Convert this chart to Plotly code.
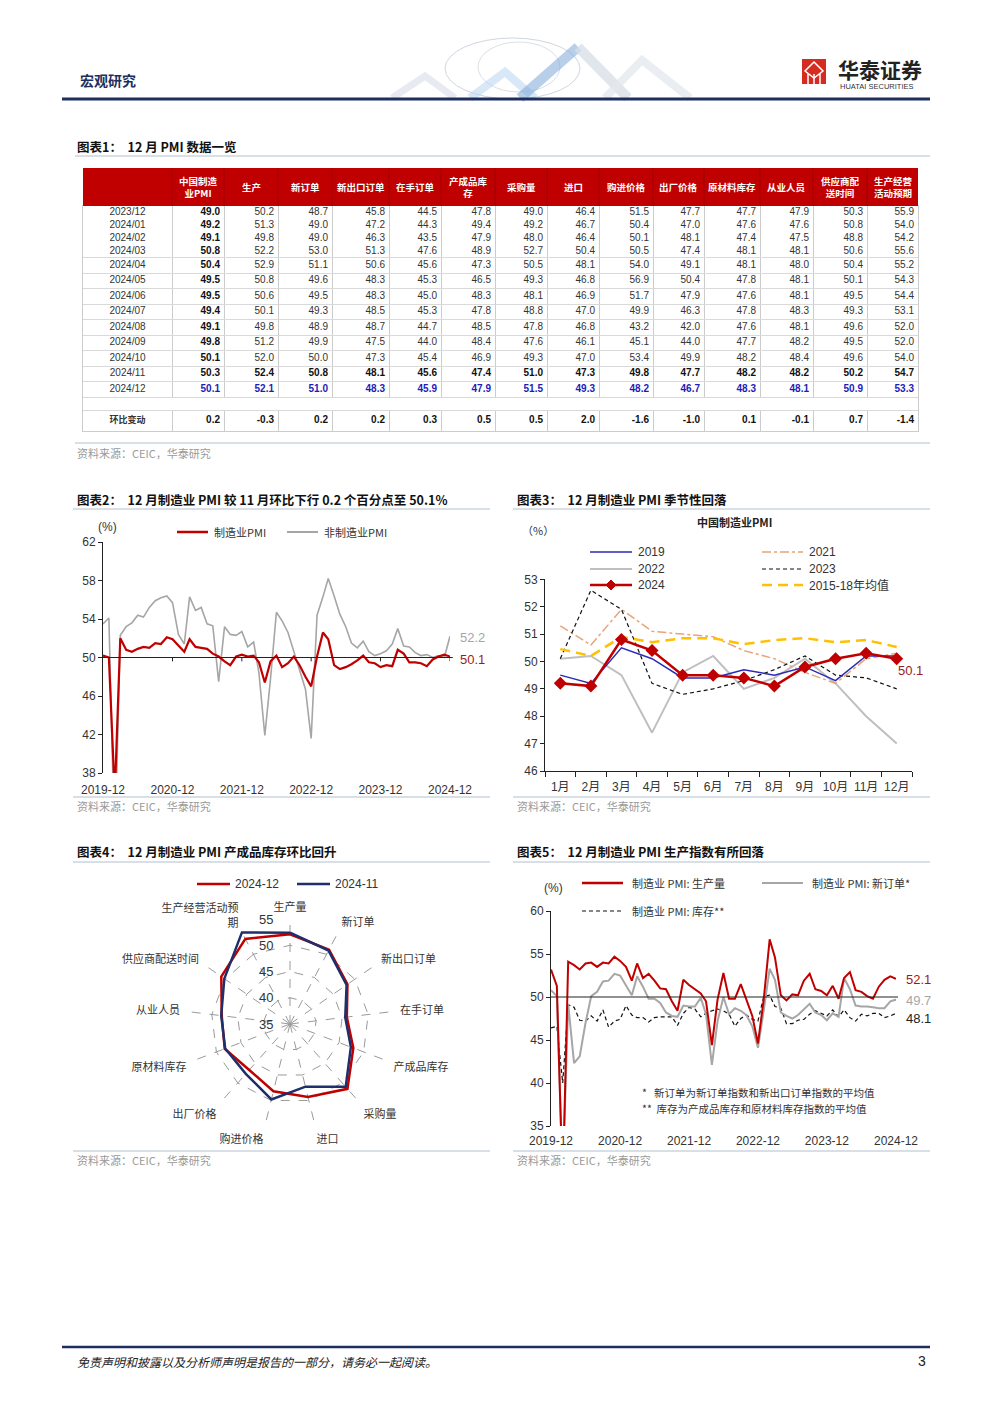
import pandas as pd
import plotly.graph_objects as go

W, H = 1000, 1414
OFF = 8  # page body margin offset
def X(p): return (p - OFF) / W
def Y(p): return 1 - (p - OFF) / H

CJK = "Noto Sans CJK SC"
NUM = "Liberation Sans, Arial, Noto Sans CJK SC"
RED = "#c00000"
NAVY = "#1f2f6b"
RULE = "#b3bfce"

# ---------------- Table 1 data ----------------
table_dates = ["2023/12", "2024/01", "2024/02", "2024/03", "2024/04", "2024/05", "2024/06",
               "2024/07", "2024/08", "2024/09", "2024/10", "2024/11", "2024/12"]
table_headers = ["中国制造<br>业PMI", "生产", "新订单", "新出口订单", "在手订单", "产成品库<br>存",
                 "采购量", "进口", "购进价格", "出厂价格", "原材料库存", "从业人员", "供应商配<br>送时间",
                 "生产经营<br>活动预期"]
pmi_total = [49.0, 49.2, 49.1, 50.8, 50.4, 49.5, 49.5, 49.4, 49.1, 49.8, 50.1, 50.3, 50.1]
production = [50.2, 51.3, 49.8, 52.2, 52.9, 50.8, 50.6, 50.1, 49.8, 51.2, 52.0, 52.4, 52.1]
new_orders = [48.7, 49.0, 49.0, 53.0, 51.1, 49.6, 49.5, 49.3, 48.9, 49.9, 50.0, 50.8, 51.0]
new_export = [45.8, 47.2, 46.3, 51.3, 50.6, 48.3, 48.3, 48.5, 48.7, 47.5, 47.3, 48.1, 48.3]
backlog = [44.5, 44.3, 43.5, 47.6, 45.6, 45.3, 45.0, 45.3, 44.7, 44.0, 45.4, 45.6, 45.9]
finished_inv = [47.8, 49.4, 47.9, 48.9, 47.3, 46.5, 48.3, 47.8, 48.5, 48.4, 46.9, 47.4, 47.9]
purchase = [49.0, 49.2, 48.0, 52.7, 50.5, 49.3, 48.1, 48.8, 47.8, 47.6, 49.3, 51.0, 51.5]
imports = [46.4, 46.7, 46.4, 50.4, 48.1, 46.8, 46.9, 47.0, 46.8, 46.1, 47.0, 47.3, 49.3]
input_price = [51.5, 50.4, 50.1, 50.5, 54.0, 56.9, 51.7, 49.9, 43.2, 45.1, 53.4, 49.8, 48.2]
output_price = [47.7, 47.0, 48.1, 47.4, 49.1, 50.4, 47.9, 46.3, 42.0, 44.0, 49.9, 47.7, 46.7]
raw_inv = [47.7, 47.6, 47.4, 48.1, 48.1, 47.8, 47.6, 47.8, 47.6, 47.7, 48.2, 48.2, 48.3]
employment = [47.9, 47.6, 47.5, 48.1, 48.0, 48.1, 48.1, 48.3, 48.1, 48.2, 48.4, 48.2, 48.1]
delivery = [50.3, 50.8, 48.8, 50.6, 50.4, 50.1, 49.5, 49.3, 49.6, 49.5, 49.6, 50.2, 50.9]
expectation = [55.9, 54.0, 54.2, 55.6, 55.2, 54.3, 54.4, 53.1, 52.0, 52.0, 54.0, 54.7, 53.3]
mom_change = [0.2, -0.3, 0.2, 0.2, 0.3, 0.5, 0.5, 2.0, -1.6, -1.0, 0.1, -0.1, 0.7, -1.4]
change_label = "环比变动"

# ---------------- Chart 2 data (monthly, 2019-12 .. 2024-12) ----------------
mfg_pmi = [50.2,
           50.0, 35.7, 52.0, 50.8, 50.6, 50.9, 51.1, 51.0, 51.5, 51.4, 52.1, 51.9,
           51.3, 50.6, 51.9, 51.1, 51.0, 50.9, 50.4, 50.1, 49.6, 49.2, 50.1, 50.3,
           50.1, 50.2, 49.5, 47.4, 49.6, 50.2, 49.0, 49.4, 50.1, 49.2, 48.0, 47.0,
           50.1, 52.6, 51.9, 49.2, 48.8, 49.0, 49.3, 49.7, 50.2, 49.5, 49.4, 49.0,
           49.2, 49.1, 50.8, 50.4, 49.5, 49.5, 49.4, 49.1, 49.8, 50.1, 50.3, 50.1]
nonmfg_pmi = [53.5,
              54.1, 29.6, 52.3, 53.2, 53.6, 54.4, 54.2, 55.2, 55.9, 56.2, 56.4, 55.7,
              52.4, 51.4, 56.3, 54.9, 55.2, 53.5, 53.3, 47.5, 53.2, 52.4, 52.3, 52.7,
              51.1, 51.6, 48.4, 41.9, 47.8, 54.7, 53.8, 52.6, 50.6, 48.7, 46.7, 41.6,
              54.4, 56.3, 58.2, 56.4, 54.5, 53.2, 51.5, 51.0, 51.7, 50.6, 50.2, 50.4,
              50.7, 51.4, 53.0, 51.2, 51.1, 50.5, 50.2, 50.3, 50.0, 50.2, 50.0, 52.2]
year_ticks = ["2019-12", "2020-12", "2021-12", "2022-12", "2023-12", "2024-12"]

# ---------------- Chart 3 data ----------------
months_cn = ["1月", "2月", "3月", "4月", "5月", "6月", "7月", "8月", "9月", "10月", "11月", "12月"]
pmi_2019 = [49.5, 49.2, 50.5, 50.1, 49.4, 49.4, 49.7, 49.5, 49.8, 49.3, 50.2, 50.2]
pmi_2021 = [51.3, 50.6, 51.9, 51.1, 51.0, 50.9, 50.4, 50.1, 49.6, 49.2, 50.1, 50.3]
pmi_2022 = [50.1, 50.2, 49.5, 47.4, 49.6, 50.2, 49.0, 49.4, 50.1, 49.2, 48.0, 47.0]
pmi_2023 = [50.1, 52.6, 51.9, 49.2, 48.8, 49.0, 49.3, 49.7, 50.2, 49.5, 49.4, 49.0]
pmi_2024 = [49.2, 49.1, 50.8, 50.4, 49.5, 49.5, 49.4, 49.1, 49.8, 50.1, 50.3, 50.1]
pmi_avg_1518 = [50.45, 50.2, 50.9, 50.7, 50.85, 50.85, 50.63, 50.78, 50.85, 50.7, 50.78, 50.53]

# ---------------- Chart 4 data ----------------
radar_cats = ["生产量", "新订单", "新出口订单", "在手订单", "产成品库存", "采购量", "进口",
              "购进价格", "出厂价格", "原材料库存", "从业人员", "供应商配送时间", "生产经营活动预<br>期"]
radar_dec = [52.1, 51.0, 48.3, 45.9, 47.9, 51.5, 49.3, 48.2, 46.7, 48.3, 48.1, 50.9, 53.3]
radar_nov = [52.4, 50.8, 48.1, 45.6, 47.4, 51.0, 47.3, 49.8, 47.7, 48.2, 48.2, 50.2, 54.7]
radar_ticks = [35, 40, 45, 50, 55]

# ---------------- Chart 5 data ----------------
prod_idx = [53.2,
            51.3, 27.8, 54.1, 53.7, 53.2, 53.9, 54.0, 53.5, 54.0, 53.9, 54.7, 54.2,
            53.5, 51.9, 53.9, 52.2, 52.7, 51.9, 51.0, 50.9, 49.5, 48.4, 52.0, 51.4,
            50.9, 50.4, 49.5, 44.4, 49.7, 52.8, 49.8, 49.8, 51.5, 49.6, 47.8, 44.6,
            49.8, 56.7, 54.6, 50.2, 49.6, 50.3, 50.2, 51.9, 52.7, 50.9, 50.7, 50.2,
            51.3, 49.8, 52.2, 52.9, 50.8, 50.6, 50.1, 49.8, 51.2, 52.0, 52.4, 52.1]
orders_avg = [50.8,
              50.1, 29.0, 49.2, 42.3, 43.1, 47.0, 50.1, 50.6, 51.8, 51.9, 52.7, 52.5,
              51.3, 50.2, 52.4, 51.2, 49.8, 49.8, 49.3, 48.2, 47.8, 47.7, 49.0, 48.9,
              48.9, 49.9, 48.0, 42.1, 47.2, 50.0, 48.0, 48.7, 48.4, 47.9, 46.6, 44.1,
              48.5, 53.3, 52.0, 48.2, 47.8, 47.5, 47.9, 48.5, 49.2, 48.2, 47.9, 47.3,
              48.1, 47.7, 52.2, 50.9, 49.0, 48.9, 48.9, 48.8, 48.7, 48.7, 49.5, 49.7]
inventory_avg = [46.4,
                 46.6, 40.0, 49.1, 48.8, 47.3, 47.2, 47.8, 47.2, 48.5, 46.5, 47.2, 47.4,
                 49.0, 47.9, 47.6, 47.6, 47.1, 47.6, 47.7, 47.7, 47.7, 46.7, 48.1, 48.8,
                 48.6, 47.7, 48.1, 48.4, 48.6, 48.4, 48.0, 46.6, 47.5, 47.9, 47.4, 47.2,
                 50.1, 50.2, 48.9, 48.7, 46.9, 46.9, 47.3, 47.4, 48.0, 48.4, 48.1, 47.8,
                 48.5, 47.7, 48.5, 47.6, 47.2, 48.0, 47.8, 48.1, 48.1, 47.6, 47.8, 48.1]

month_dates = pd.date_range("2019-12-01", "2024-12-01", freq="MS")
year_tickvals = [t + "-01" for t in year_ticks]

fig = go.Figure()
annotations, shapes = [], []

def txt(x, y, text, size=11, color="#333", anchor="left", family=CJK, yanchor="middle"):
    annotations.append(dict(x=X(x), y=Y(y), xref="paper", yref="paper", text=text, showarrow=False,
                            xanchor=anchor, yanchor=yanchor, font=dict(size=size, color=color, family=family)))

def hline(x0, x1, y, color, width=1, dash=None):
    shapes.append(dict(type="line", xref="paper", yref="paper", x0=X(x0), x1=X(x1), y0=Y(y), y1=Y(y),
                       line=dict(color=color, width=width, dash=dash)))

def vline(x, y0, y1, color, width=1):
    shapes.append(dict(type="line", xref="paper", yref="paper", x0=X(x), x1=X(x), y0=Y(y0), y1=Y(y1),
                       line=dict(color=color, width=width)))

def poly(points, fill="rgba(0,0,0,0)", color="rgba(0,0,0,0)", width=0, closed=True, opacity=1.0):
    d = "M " + " L ".join(f"{X(a):.5f},{Y(b):.5f}" for a, b in points) + (" Z" if closed else "")
    shapes.append(dict(type="path", xref="paper", yref="paper", path=d, fillcolor=fill,
                       line=dict(color=color, width=width), opacity=opacity))

# ---------------- Header ----------------
shapes.append(dict(type="circle", xref="paper", yref="paper", x0=X(445), x1=X(580), y0=Y(99), y1=Y(38),
                   line=dict(color="#cfd6df", width=1)))
shapes.append(dict(type="circle", xref="paper", yref="paper", x0=X(478), x1=X(560), y0=Y(92), y1=Y(42),
                   line=dict(color="#dbe0e7", width=1)))
poly([(392, 98), (425, 76), (455, 98)], color="#d8dfe8", width=7, closed=False, opacity=0.6)
poly([(470, 98), (505, 72), (535, 98)], color="#b3d3ee", width=8, closed=False, opacity=0.5)
poly([(520, 98), (578, 47)], color="#7fa8da", width=10, closed=False, opacity=0.55)
poly([(578, 47), (628, 98)], color="#d8dee6", width=10, closed=False, opacity=0.75)
poly([(605, 98), (642, 60), (690, 98)], color="#e4e9ee", width=8, closed=False, opacity=0.75)
txt(78, 80, "<b>宏观研究</b>", size=14, color="#1c2f5e")
shapes.append(dict(type="rect", xref="paper", yref="paper", x0=X(802), x1=X(826), y0=Y(84), y1=Y(59),
                   fillcolor="#d62b1f", line=dict(width=0)))
poly([(814, 62), (823, 71), (814, 78), (805, 71)], color="white", width=1.5)
for xv in (808, 814, 820):
    vline(xv, 84, 74, "white", 1.5)
txt(836, 69, "<b>华泰证券</b>", size=21, color="#222")
txt(838, 86, "HUATAI SECURITIES", size=7.5, color="#333", family=NUM)
hline(62, 930, 99, "#1c2f5e", 3)

# ---------------- Table section ----------------
txt(75, 146, "<b>图表1：  12 月 PMI 数据一览</b>", size=12.5, color="#111")
hline(75, 930, 156, RULE, 1)

T_LEFT, T_RIGHT, T_HEAD_TOP, T_BODY_TOP = 83, 918, 168, 206
col_widths = [89, 52, 54, 54, 57, 52, 54, 52, 52, 54, 51, 56, 53, 54, 51]
row_heights = [12.9] * 4 + [15.5] * 9 + [13.7, 20.0]
edges = [0]
for w in col_widths:
    edges.append(edges[-1] + w)
bounds = [0]
for h in row_heights:
    bounds.append(bounds[-1] + h)
row_centers = [(bounds[k] + bounds[k + 1]) / 2 for k in range(len(row_heights))]
T_BOTTOM = T_BODY_TOP + bounds[-1]

shapes.append(dict(type="rect", xref="paper", yref="paper", x0=X(T_LEFT), x1=X(T_RIGHT), y0=Y(T_BODY_TOP),
                   y1=Y(T_HEAD_TOP), fillcolor=RED, line=dict(width=0)))
for e in edges[1:-1]:
    vline(T_LEFT + e, T_HEAD_TOP, T_BODY_TOP, "#9c0000", 1)
for i, h in enumerate(table_headers):
    cx = T_LEFT + (edges[i + 1] + edges[i + 2]) / 2
    txt(cx, (T_HEAD_TOP + T_BODY_TOP) / 2, f"<b>{h}</b>", size=9.5, color="white", anchor="center")
shapes.append(dict(type="rect", xref="paper", yref="paper", x0=X(T_LEFT + 0.8), x1=X(T_RIGHT - 0.8),
                   y0=Y(T_BODY_TOP + bounds[14] - 0.8), y1=Y(T_BODY_TOP + bounds[13] + 0.8),
                   fillcolor="white", line=dict(width=0)))

row_labels = table_dates + ["", f"<b>{change_label}</b>"]
fig.add_trace(go.Scatter(x=[edges[1] / 2] * len(row_labels), y=row_centers, mode="text",
                         text=row_labels, textposition="middle center",
                         textfont=dict(size=[10] * 14 + [9], color="#333", family=NUM), xaxis="x4", yaxis="y4",
                         showlegend=False, hoverinfo="skip"))
series = [pmi_total, production, new_orders, new_export, backlog, finished_inv, purchase, imports,
          input_price, output_price, raw_inv, employment, delivery, expectation]
for i, s in enumerate(series):
    texts, colors = [], []
    for r, v in enumerate(s):
        t = f"{v:.1f}"
        bold = i == 0 or r >= len(s) - 2
        texts.append(f"<b>{t}</b>" if bold else t)
        colors.append("#1c1cb8" if r == len(s) - 1 else ("#111" if bold else "#333"))
    texts += ["", f"<b>{mom_change[i]:.1f}</b>"]
    colors += ["#111", "#111"]
    fig.add_trace(go.Scatter(x=[edges[i + 2] - 4] * len(texts), y=row_centers, mode="text", text=texts,
                             textposition="middle left", textfont=dict(size=10, color=colors, family=NUM),
                             xaxis="x4", yaxis="y4", showlegend=False, hoverinfo="skip"))
hline(75, 930, 443, RULE, 1)
txt(75, 453, "资料来源：CEIC，华泰研究", size=11, color="#9a9a9a")

# ---------------- Chart 2 ----------------
txt(75, 499, "<b>图表2：  12 月制造业 PMI 较 11 月环比下行 0.2 个百分点至 50.1%</b>", size=12.5, color="#111")
hline(73, 490, 509, RULE, 1)
fig.add_trace(go.Scatter(x=month_dates, y=nonmfg_pmi, mode="lines", line=dict(color="#a6a6a6", width=1.6),
                         xaxis="x", yaxis="y", showlegend=False))
fig.add_trace(go.Scatter(x=month_dates, y=mfg_pmi, mode="lines", line=dict(color=RED, width=2.2),
                         xaxis="x", yaxis="y", showlegend=False))
shapes.append(dict(type="line", xref="x domain", yref="y", x0=0, x1=1.008, y0=50, y1=50,
                   line=dict(color="#222", width=1)))
for tv in year_tickvals[1:]:
    shapes.append(dict(type="line", xref="x", yref="y", x0=tv, x1=tv, y0=50, y1=49.6,
                       line=dict(color="#222", width=1)))
txt(107, 527, "(%)", size=12, color="#333", anchor="center", family=NUM)
hline(177, 208, 532, RED, 2.5)
txt(212, 532, "制造业PMI", size=11)
hline(287, 318, 532, "#a6a6a6", 2)
txt(322, 532, "非制造业PMI", size=11)
txt(458, 637, "52.2", size=13, color="#a6a6a6", family=NUM)
txt(458, 659, "50.1", size=13, color="#9b1b1b", family=NUM)
hline(73, 490, 797, RULE, 1)
txt(75, 806, "资料来源：CEIC，华泰研究", size=11, color="#9a9a9a")

# ---------------- Chart 3 ----------------
txt(515, 499, "<b>图表3：  12 月制造业 PMI 季节性回落</b>", size=12.5, color="#111")
hline(513, 930, 509, RULE, 1)
txt(734, 522, "<b>中国制造业PMI</b>", size=11, color="#222", anchor="center")
txt(538, 530, "（%）", size=11, color="#333", anchor="center")
c3 = [
    (pmi_2022, dict(color="#bfbfbf", width=2), None),
    (pmi_2021, dict(color="#e8a477", width=1.5, dash="dashdot"), None),
    (pmi_2023, dict(color="#111", width=1.2, dash="4px,3px"), None),
    (pmi_2019, dict(color="#2b2bb5", width=1.5), None),
    (pmi_avg_1518, dict(color="#ffc000", width=2.5, dash="10px,6px"), None),
    (pmi_2024, dict(color=RED, width=2.5), dict(symbol="diamond", size=10, color=RED)),
]
for ys, ln, mk in c3:
    fig.add_trace(go.Scatter(x=months_cn, y=ys, mode="lines+markers" if mk else "lines", line=ln,
                             marker=mk, xaxis="x2", yaxis="y2", showlegend=False))
hline(590, 632, 552, "#2b2bb5", 1.5); txt(636, 552, "2019", size=12, family=NUM)
hline(590, 632, 569, "#bfbfbf", 2); txt(636, 569, "2022", size=12, family=NUM)
hline(590, 632, 585, RED, 2.5); txt(636, 585, "2024", size=12, family=NUM)
poly([(611, 580), (616, 585), (611, 590), (606, 585)], fill=RED, color=RED, width=1)
hline(762, 803, 552, "#e8a477", 1.5, "dashdot"); txt(807, 552, "2021", size=12, family=NUM)
hline(762, 803, 569, "#111", 1.2, "4px,3px"); txt(807, 569, "2023", size=12, family=NUM)
hline(762, 803, 585, "#ffc000", 2.5, "10px,6px"); txt(807, 585, "2015-18年均值", size=12, family=NUM)
txt(910, 670, "50.1", size=13, color="#9b1b1b", anchor="center", family=NUM)
hline(513, 930, 797, RULE, 1)
txt(515, 806, "资料来源：CEIC，华泰研究", size=11, color="#9a9a9a")

# ---------------- Chart 4 (radar) ----------------
txt(75, 852, "<b>图表4：  12 月制造业 PMI 产成品库存环比回升</b>", size=12.5, color="#111")
hline(73, 490, 862, RULE, 1)
hline(197, 230, 884, RED, 2.5); txt(233, 884, "2024-12", size=12, family=NUM)
hline(297, 330, 884, NAVY, 2.5); txt(333, 884, "2024-11", size=12, family=NUM)
fig.add_trace(go.Scatterpolar(r=radar_dec + radar_dec[:1], theta=radar_cats + radar_cats[:1], mode="lines",
                              line=dict(color=RED, width=2.5), subplot="polar", showlegend=False))
fig.add_trace(go.Scatterpolar(r=radar_nov + radar_nov[:1], theta=radar_cats + radar_cats[:1], mode="lines",
                              line=dict(color=NAVY, width=2.5), subplot="polar", showlegend=False))
fig.add_trace(go.Scatterpolar(r=[35], theta=radar_cats[:1], mode="markers",
                              marker=dict(color="#999", size=6), subplot="polar", showlegend=False))
R_CX, R_CY, R_RAD = 290, 1024, 105
for tv in radar_ticks:
    txt(R_CX - 15, R_CY - R_RAD * (tv - radar_ticks[0]) / (radar_ticks[-1] - radar_ticks[0]), str(tv),
        size=13, color="#333", anchor="right", family=NUM)
hline(73, 490, 1151, RULE, 1)
txt(75, 1160, "资料来源：CEIC，华泰研究", size=11, color="#9a9a9a")

# ---------------- Chart 5 ----------------
txt(515, 852, "<b>图表5：  12 月制造业 PMI 生产指数有所回落</b>", size=12.5, color="#111")
hline(513, 930, 862, RULE, 1)
fig.add_trace(go.Scatter(x=month_dates, y=inventory_avg, mode="lines", line=dict(color="#111", width=1.2, dash="4px,3px"),
                         xaxis="x3", yaxis="y3", showlegend=False))
fig.add_trace(go.Scatter(x=month_dates, y=orders_avg, mode="lines", line=dict(color="#a6a6a6", width=2),
                         xaxis="x3", yaxis="y3", showlegend=False))
fig.add_trace(go.Scatter(x=month_dates, y=prod_idx, mode="lines", line=dict(color=RED, width=2),
                         xaxis="x3", yaxis="y3", showlegend=False))
shapes.append(dict(type="line", xref="x3 domain", yref="y3", x0=0, x1=1.006, y0=50, y1=50,
                   line=dict(color="#222", width=1)))
txt(553, 888, "(%)", size=12, color="#333", anchor="center", family=NUM)
hline(582, 623, 883, RED, 2.5); txt(630, 883, "制造业 PMI: 生产量", size=11)
hline(762, 803, 883, "#a6a6a6", 2); txt(810, 883, "制造业 PMI: 新订单*", size=11)
hline(582, 623, 911, "#111", 1.2, "4px,3px"); txt(630, 911, "制造业 PMI: 库存**", size=11)
txt(640, 1092, "*   新订单为新订单指数和新出口订单指数的平均值", size=10.5)
txt(640, 1108, "**  库存为产成品库存和原材料库存指数的平均值", size=10.5)
txt(904, 979, "52.1", size=13, color="#9b1b1b", family=NUM)
txt(904, 1000, "49.7", size=13, color="#a6a6a6", family=NUM)
txt(904, 1018, "48.1", size=13, color="#222", family=NUM)
hline(513, 930, 1151, RULE, 1)
txt(515, 1160, "资料来源：CEIC，华泰研究", size=11, color="#9a9a9a")

# ---------------- Footer ----------------
hline(62, 930, 1347, "#1c2f5e", 2.5)
txt(75, 1361, "<i>免责声明和披露以及分析师声明是报告的一部分，请务必一起阅读。</i>", size=12, color="#222")
txt(928, 1361, "3", size=14, color="#222", anchor="right", family=NUM)

axis_font = dict(size=12, color="#333", family=NUM)
common = dict(automargin=False, showgrid=False, zeroline=False)
fig.update_layout(
    width=W, height=H, margin=dict(l=0, r=0, t=0, b=0, pad=0, autoexpand=False),
    paper_bgcolor="white", plot_bgcolor="white", showlegend=False,
    font=dict(family=CJK, color="#333"),
    xaxis=dict(domain=[X(103), X(450)], range=["2019-12-01", "2024-12-01"], tickvals=year_tickvals,
               ticktext=year_ticks, showline=False, ticks="outside", ticklen=6, tickcolor="rgba(0,0,0,0)",
               tickangle=0, tickfont=axis_font, anchor="y", **common),
    yaxis=dict(domain=[Y(773), Y(542)], range=[38, 62], tickvals=[38, 42, 46, 50, 54, 58, 62],
               showline=True, linecolor="#222", linewidth=1, ticks="outside", ticklen=4, tickcolor="#222",
               tickfont=axis_font, anchor="x", **common),
    xaxis2=dict(domain=[X(545), X(912)], range=[-0.5, 11.5], type="category", showline=True,
                linecolor="#222", linewidth=1, ticks="outside", tickson="boundaries", ticklen=5,
                tickcolor="#222", tickangle=0, ticklabelstandoff=5, tickfont=axis_font, anchor="y2", **common),
    yaxis2=dict(domain=[Y(771), Y(579.3)], range=[46, 53], dtick=1, showline=True, linecolor="#222",
                linewidth=1, ticks="outside", ticklen=4, tickcolor="#222", tickfont=axis_font, anchor="x2", **common),
    xaxis3=dict(domain=[X(551), X(896)], range=["2019-12-01", "2024-12-01"], tickvals=year_tickvals,
                ticktext=year_ticks, showline=False, ticks="outside", ticklen=4, tickcolor="rgba(0,0,0,0)",
                tickangle=0, tickfont=axis_font, anchor="y3", **common),
    yaxis3=dict(domain=[Y(1126), Y(911)], range=[35, 60], dtick=5, showline=True, linecolor="#222",
                linewidth=1, ticks="outside", ticklen=4, tickcolor="#222", tickfont=axis_font, anchor="x3", **common),
    xaxis4=dict(domain=[X(T_LEFT), X(T_RIGHT)], range=[0, edges[-1]], tickvals=edges, showgrid=True,
                gridcolor="#cccccc", gridwidth=1, showticklabels=False, ticks="", zeroline=False,
                showline=True, mirror=True, linecolor="#cccccc", automargin=False, anchor="y4", fixedrange=True),
    yaxis4=dict(domain=[Y(T_BOTTOM), Y(T_BODY_TOP)], range=[bounds[-1], 0],
                tickvals=[b for k, b in enumerate(bounds) if k not in (1, 2, 3)],
                showgrid=True, gridcolor="#d9d9d9", gridwidth=1, showticklabels=False, ticks="", zeroline=False,
                showline=True, mirror=True, linecolor="#cccccc", automargin=False, anchor="x4", fixedrange=True),
    polar=dict(domain=dict(x=[X(185), X(395)], y=[Y(1129), Y(919)]), gridshape="linear", bgcolor="white",
               angularaxis=dict(direction="clockwise", rotation=90, showline=False, gridcolor="#9a9a9a",
                                griddash="dash", gridwidth=1, ticks="outside", ticklen=3, tickcolor="rgba(0,0,0,0)",
                                tickfont=dict(size=11, color="#333", family=CJK)),
               radialaxis=dict(range=[35, 55], tickvals=radar_ticks, angle=90, showticklabels=False,
                               showline=False, gridcolor="#9a9a9a", griddash="dash", ticks="")),
    annotations=annotations, shapes=shapes,
)
fig.write_html("out.html")
